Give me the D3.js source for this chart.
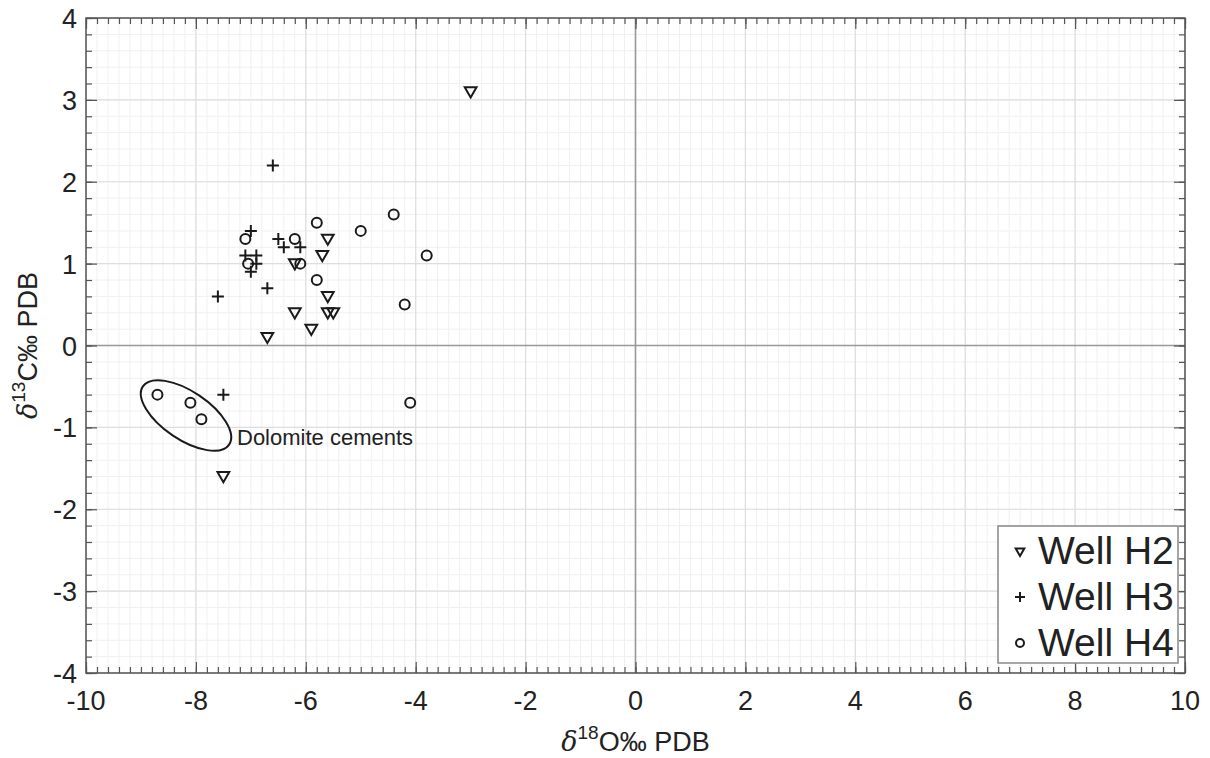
<!doctype html>
<html lang="en">
  <head>
    <meta charset="utf-8">
    <title>Carbon and oxygen isotopes</title>
    <style>
      body { margin: 0; background: #fff; }
      svg text { font-family: "Liberation Sans", Arial, sans-serif; fill: #222; }
    </style>
  </head>
  <body>
    <div id="chart"></div>
    <script src="https://cdn.jsdelivr.net/npm/d3@7"></script>
    <script>

    // well H2 (down triangles)
    var h2X = [-3.0, -5.6, -5.7, -6.2, -5.6, -6.2, -5.6, -5.5, -5.9, -6.7, -7.5];
    var h2Y = [ 3.1,  1.3,  1.1,  1.0,  0.6,  0.4,  0.4,  0.4,  0.2,  0.1, -1.6];

    // well H3 (plus)
    var h3X = [-6.6, -7.0, -6.5, -6.4, -6.1, -7.1, -6.9, -6.9, -7.0, -6.7, -7.6, -7.5];
    var h3Y = [ 2.2,  1.4,  1.3,  1.2,  1.2,  1.1,  1.1,  1.0,  0.9,  0.7,  0.6, -0.6];

    // well H4 (circles)
    var h4X = [-5.8, -4.4, -5.0, -7.1, -6.2, -3.8, -7.05, -6.1, -5.8, -4.2, -4.1, -8.7, -8.1, -7.9];
    var h4Y = [ 1.5,  1.6,  1.4,  1.3,  1.3,  1.1,  1.0,  1.0,  0.8,  0.5, -0.7, -0.6, -0.7, -0.9];

    var legendLabels = ["Well H2", "Well H3", "Well H4"];
    var xTicks = [-10, -8, -6, -4, -2, 0, 2, 4, 6, 8, 10];
    var yTicks = [-4, -3, -2, -1, 0, 1, 2, 3, 4];

    // dolomite cement group: centre in data units
    var dolomiteCentre = [-8.18, -0.855];

    var W = 1210, H = 758;
    var margin = {left: 86, right: 25, top: 18, bottom: 85};

    var svg = d3.select("#chart").append("svg")
        .attr("width", W).attr("height", H);

    var x = d3.scaleLinear().domain([-10, 10]).range([margin.left, W - margin.right]);
    var y = d3.scaleLinear().domain([-4, 4]).range([H - margin.bottom, margin.top]);

    var x0 = x(-10), x1 = x(10), y0 = y(-4), y1 = y(4);

    var minorX = d3.range(-10, 10.001, 0.2);
    var minorY = d3.range(-4, 4.001, 0.2);

    //minor grid
    svg.append("g").selectAll("line").data(minorX).join("line")
      .attr("x1", d => x(d)).attr("x2", d => x(d)).attr("y1", y1).attr("y2", y0)
      .attr("stroke", "#f0f0f0").attr("stroke-width", 1);
    svg.append("g").selectAll("line").data(minorY).join("line")
      .attr("y1", d => y(d)).attr("y2", d => y(d)).attr("x1", x0).attr("x2", x1)
      .attr("stroke", "#f0f0f0").attr("stroke-width", 1);

    //major grid
    svg.append("g").selectAll("line").data(xTicks).join("line")
      .attr("x1", d => x(d)).attr("x2", d => x(d)).attr("y1", y1).attr("y2", y0)
      .attr("stroke", "#dedede").attr("stroke-width", 1.2);
    svg.append("g").selectAll("line").data(yTicks).join("line")
      .attr("y1", d => y(d)).attr("y2", d => y(d)).attr("x1", x0).attr("x2", x1)
      .attr("stroke", "#dedede").attr("stroke-width", 1.2);

    //zero lines
    svg.append("line").attr("x1", x(0)).attr("x2", x(0)).attr("y1", y1).attr("y2", y0)
      .attr("stroke", "#999").attr("stroke-width", 1.6);
    svg.append("line").attr("y1", y(0)).attr("y2", y(0)).attr("x1", x0).attr("x2", x1)
      .attr("stroke", "#999").attr("stroke-width", 1.6);

    //axes, ticks inward on all four sides
    function styleAxis(g) {
      g.select(".domain").remove();
      g.selectAll(".tick line").attr("stroke", "#555").attr("stroke-width", 1.2);
      g.selectAll("text").remove();
    }
    svg.append("g").attr("transform", "translate(0," + y0 + ")")
      .call(d3.axisTop(x).tickValues(minorX).tickSize(6)).call(styleAxis);
    svg.append("g").attr("transform", "translate(0," + y0 + ")")
      .call(d3.axisTop(x).tickValues(xTicks).tickSize(11)).call(styleAxis);
    svg.append("g").attr("transform", "translate(0," + y1 + ")")
      .call(d3.axisBottom(x).tickValues(minorX).tickSize(6)).call(styleAxis);
    svg.append("g").attr("transform", "translate(0," + y1 + ")")
      .call(d3.axisBottom(x).tickValues(xTicks).tickSize(11)).call(styleAxis);
    svg.append("g").attr("transform", "translate(" + x0 + ",0)")
      .call(d3.axisRight(y).tickValues(minorY).tickSize(6)).call(styleAxis);
    svg.append("g").attr("transform", "translate(" + x0 + ",0)")
      .call(d3.axisRight(y).tickValues(yTicks).tickSize(11)).call(styleAxis);
    svg.append("g").attr("transform", "translate(" + x1 + ",0)")
      .call(d3.axisLeft(y).tickValues(minorY).tickSize(6)).call(styleAxis);
    svg.append("g").attr("transform", "translate(" + x1 + ",0)")
      .call(d3.axisLeft(y).tickValues(yTicks).tickSize(11)).call(styleAxis);

    svg.append("rect").attr("x", x0).attr("y", y1).attr("width", x1 - x0).attr("height", y0 - y1)
      .attr("fill", "none").attr("stroke", "#555").attr("stroke-width", 1.5);

    //tick labels
    svg.append("g").selectAll("text").data(xTicks).join("text")
      .attr("x", d => x(d)).attr("y", y0 + 37)
      .attr("text-anchor", "middle").attr("font-size", 27)
      .text(d => d);
    svg.append("g").selectAll("text").data(yTicks).join("text")
      .attr("x", x0 - 9).attr("y", d => y(d) + 10)
      .attr("text-anchor", "end").attr("font-size", 27)
      .text(d => d);

    //axis titles
    var xt = svg.append("text").attr("x", x(0)).attr("y", 751)
      .attr("text-anchor", "middle").attr("font-size", 27);
    xt.append("tspan").attr("font-family", "DejaVu Serif").attr("font-style", "italic").text("δ");
    xt.append("tspan").attr("font-size", 19).attr("dy", -12).text("18");
    xt.append("tspan").attr("dy", 12).text("O‰ PDB");

    var yt = svg.append("text").attr("transform", "translate(37," + y(0) + ") rotate(-90)")
      .attr("text-anchor", "middle").attr("font-size", 27);
    yt.append("tspan").attr("font-family", "DejaVu Serif").attr("font-style", "italic").text("δ");
    yt.append("tspan").attr("font-size", 19).attr("dy", -12).text("13");
    yt.append("tspan").attr("dy", 12).text("C‰ PDB");

    //markers
    var markColor = "#1a1a1a";

    function drawTri(g, s) {
      g.append("path").attr("d", d3.symbol().type(d3.symbolTriangle).size(s)())
        .attr("transform", "rotate(180)")
        .attr("fill", "none").attr("stroke", markColor).attr("stroke-width", 2);
    }
    function drawPlus(g, r) {
      g.append("path").attr("d", "M" + (-r) + ",0H" + r + "M0," + (-r) + "V" + r)
        .attr("stroke", markColor).attr("stroke-width", 2).attr("fill", "none");
    }
    function drawCircle(g, r) {
      g.append("circle").attr("r", r)
        .attr("fill", "none").attr("stroke", markColor).attr("stroke-width", 2);
    }

    var h2 = h2X.map((v, i) => [v, h2Y[i]]);
    var h3 = h3X.map((v, i) => [v, h3Y[i]]);
    var h4 = h4X.map((v, i) => [v, h4Y[i]]);

    svg.append("g").selectAll("g").data(h2).join("g")
      .attr("transform", d => "translate(" + x(d[0]) + "," + (y(d[1]) - 1) + ")")
      .each(function(){ drawTri(d3.select(this), 60); });
    svg.append("g").selectAll("g").data(h3).join("g")
      .attr("transform", d => "translate(" + x(d[0]) + "," + y(d[1]) + ")")
      .each(function(){ drawPlus(d3.select(this), 6); });
    svg.append("g").selectAll("g").data(h4).join("g")
      .attr("transform", d => "translate(" + x(d[0]) + "," + y(d[1]) + ")")
      .each(function(){ drawCircle(d3.select(this), 5); });

    //dolomite annotation
    svg.append("ellipse")
      .attr("cx", 0).attr("cy", 0).attr("rx", 52).attr("ry", 24)
      .attr("transform", "translate(" + x(dolomiteCentre[0]) + "," + y(dolomiteCentre[1]) + ") rotate(34)")
      .attr("fill", "none").attr("stroke", "#1a1a1a").attr("stroke-width", 2);
    svg.append("text").attr("x", x(dolomiteCentre[0]) + 51).attr("y", y(dolomiteCentre[1]) + 29)
      .attr("font-size", 22).text("Dolomite cements");

    //legend
    var lx = 998, ly = 526, lw = 180, lh = 137;
    svg.append("rect").attr("x", lx).attr("y", ly).attr("width", lw).attr("height", lh)
      .attr("fill", "#fff").attr("stroke", "#888").attr("stroke-width", 1.5);
    var leg = svg.append("g").selectAll("g").data(legendLabels).join("g")
      .attr("transform", (d, i) => "translate(" + lx + "," + (ly + 24 + i * 46) + ")");
    leg.append("text").attr("x", 40).attr("y", 14).attr("font-size", 39).text(d => d);
    leg.each(function(d, i){
      var g = d3.select(this).append("g").attr("transform", "translate(22,1)");
      if (i === 0) drawTri(g, 32);
      else if (i === 1) drawPlus(g, 5);
      else drawCircle(g, 4);
    });

    </script>
  </body>
</html>
